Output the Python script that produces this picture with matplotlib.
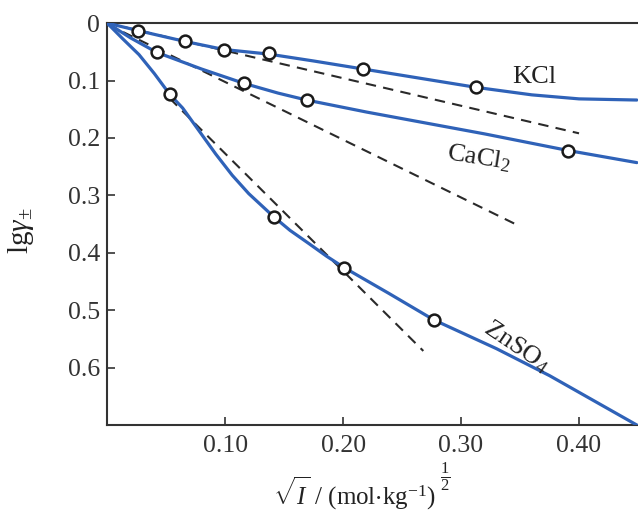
import numpy as np
import matplotlib
matplotlib.use('Agg')
import matplotlib.pyplot as plt

plt.rcParams['font.family'] = ['Liberation Serif', 'DejaVu Serif']
plt.rcParams['mathtext.fontset'] = 'custom'
plt.rcParams['mathtext.rm'] = 'Liberation Serif'
plt.rcParams['mathtext.it'] = 'Liberation Serif:italic'
plt.rcParams['mathtext.bf'] = 'Liberation Serif:bold'
plt.rcParams['mathtext.default'] = 'regular'

# solid curves (sqrt(I), -lg gamma)
kcl_x = [0, 0.026, 0.066, 0.099, 0.137, 0.175, 0.217, 0.265, 0.313, 0.36, 0.40, 0.449]
kcl_y = [0, 0.013, 0.032, 0.046, 0.054, 0.066, 0.080, 0.096, 0.112, 0.125, 0.132, 0.134]
cacl2_x = [0, 0.02, 0.042, 0.08, 0.116, 0.145, 0.169, 0.22, 0.27, 0.32, 0.391, 0.449]
cacl2_y = [0, 0.026, 0.051, 0.080, 0.105, 0.122, 0.134, 0.155, 0.174, 0.193, 0.222, 0.243]
znso4_x = [0, 0.013, 0.027, 0.040, 0.053, 0.064, 0.078, 0.092, 0.106, 0.120, 0.141,
           0.155, 0.171, 0.186, 0.201, 0.239, 0.277, 0.33, 0.375, 0.449]
znso4_y = [0, 0.027, 0.055, 0.088, 0.124, 0.148, 0.188, 0.228, 0.265, 0.297, 0.337,
           0.361, 0.384, 0.406, 0.426, 0.471, 0.517, 0.567, 0.614, 0.700]

# measured points
kcl_px = [0.026, 0.066, 0.099, 0.137, 0.217, 0.313]
kcl_py = [0.013, 0.032, 0.047, 0.052, 0.080, 0.112]
cacl2_px = [0.042, 0.116, 0.169, 0.391]
cacl2_py = [0.051, 0.105, 0.134, 0.222]
znso4_px = [0.053, 0.141, 0.201, 0.277]
znso4_py = [0.124, 0.337, 0.426, 0.517]

# limiting law (dashed) segments
kcl_lim = ([0, 0.40], [0, 0.192])
cacl2_lim = ([0, 0.345], [0.002, 0.349])
znso4_lim = ([0.053, 0.268], [0.131, 0.571])

blue = '#2f62b8'
ink = '#222222'
fig = plt.figure(figsize=(6.38, 5.13), dpi=100)
ax = fig.add_axes([0.168, 0.1715, 0.832, 0.7835])

for xs, ys in (kcl_lim, cacl2_lim, znso4_lim):
    ax.plot(xs, ys, ls=(0, (5, 3.5)), color='#2a2a2a', lw=1.5, zorder=2)

for xs, ys in ((kcl_x, kcl_y), (cacl2_x, cacl2_y), (znso4_x, znso4_y)):
    ax.plot(xs, ys, color=blue, lw=2.3, solid_joinstyle='round', solid_capstyle='round', zorder=3)

for xs, ys in ((kcl_px, kcl_py), (cacl2_px, cacl2_py), (znso4_px, znso4_py)):
    ax.plot(xs, ys, 'o', ms=8.5, mfc='white', mec='#1a1a1a', mew=1.8, zorder=4)

ax.text(0.362, 0.094, 'KCl', fontsize=19, ha='center', va='center', color=ink)
ax.text(0.315, 0.234, r'CaCl$_{2}$', fontsize=19, ha='center', va='center',
        rotation=-9, color=ink)
ax.text(0.347, 0.563, r'ZnSO$_{4}$', fontsize=19, ha='center', va='center',
        rotation=-34, color=ink)

ax.set_xlim(0, 0.45)
ax.set_ylim(0.7, 0)
ax.set_xticks([0.10, 0.20, 0.30, 0.40])
ax.set_xticklabels(['0.10', '0.20', '0.30', '0.40'])
ax.set_yticks([0, 0.1, 0.2, 0.3, 0.4, 0.5, 0.6])
ax.set_yticklabels(['0', '0.1', '0.2', '0.3', '0.4', '0.5', '0.6'])
ax.tick_params(direction='in', length=6, width=1.2, labelsize=18.5, colors='#333333')
ax.tick_params(axis='x', pad=7)
ax.tick_params(axis='y', pad=5)
ax.spines['right'].set_visible(False)
for s in ('left', 'top', 'bottom'):
    ax.spines[s].set_linewidth(1.5)
    ax.spines[s].set_color('#333333')

fig.text(0.033, 0.55, r'lg$\mathit{\gamma}_{\pm}$', fontsize=21, rotation=90,
         ha='center', va='center', color=ink)
fig.text(0.555, 0.038, r'$\sqrt{\mathit{I}}$ / (mol$\cdot$kg$^{-1}$)', fontsize=18,
         ha='center', va='center', color=ink)
fig.text(0.69, 0.07, r'$\frac{1}{2}$', fontsize=17, ha='left', va='center', color=ink)

fig.savefig('out.png', dpi=100)
